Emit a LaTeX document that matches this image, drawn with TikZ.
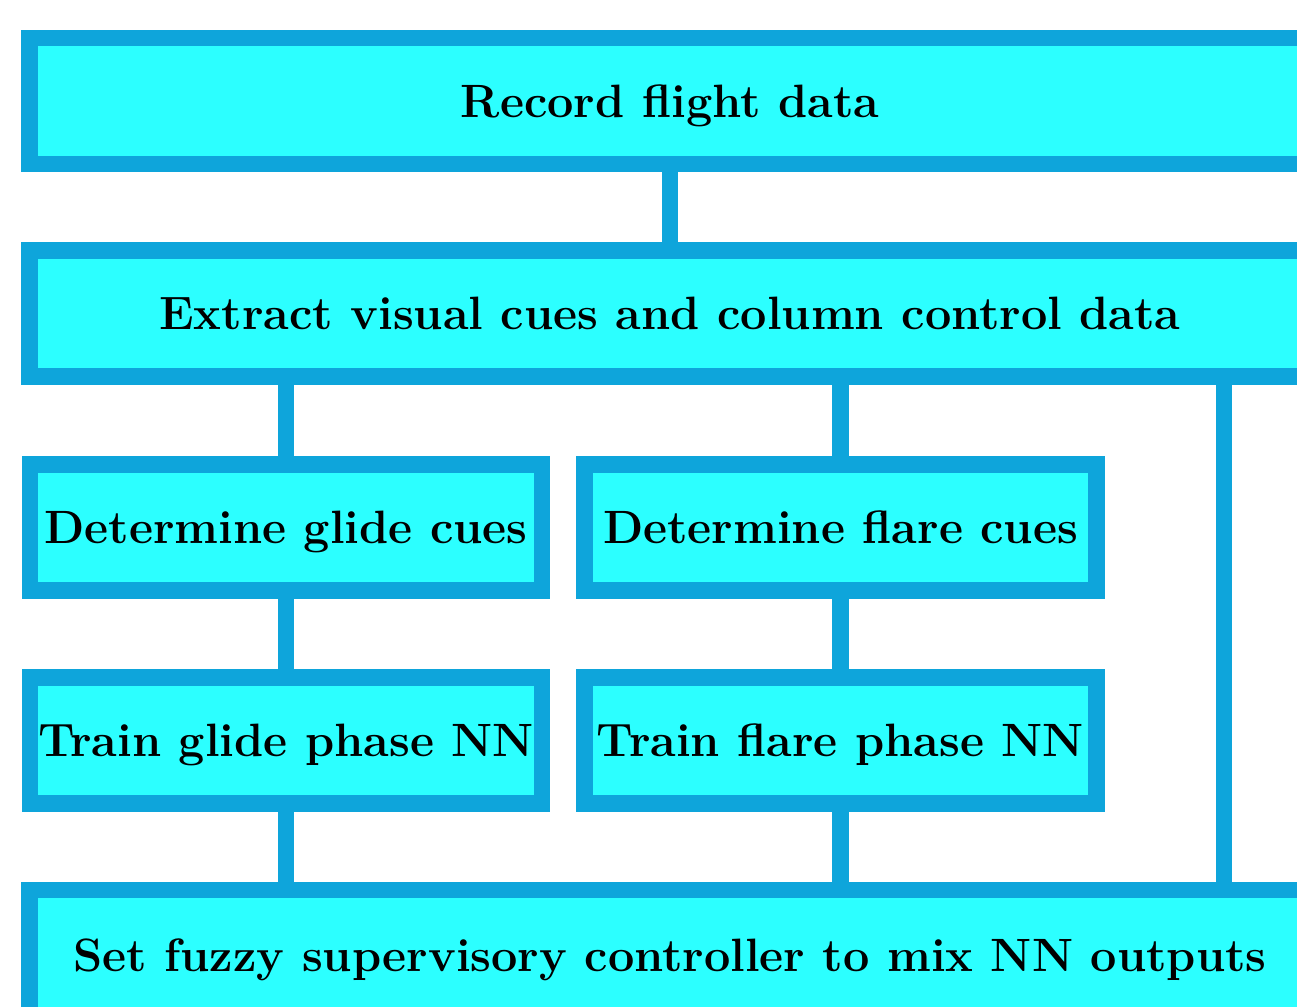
\documentclass[tikz,border=0pt]{standalone}
\usepackage{xcolor}
\definecolor{boxline}{HTML}{0EA5DB}
\definecolor{boxfill}{HTML}{2CFFFF}

\begin{document}
\begin{tikzpicture}[x=0.01cm, y=-0.01cm,
  stage/.style={draw=boxline, fill=boxfill, line width=0.165cm,
    minimum height=1.26cm, inner sep=0pt, text height=9.1pt, text depth=0pt,
    font=\fontsize{13.3}{16}\selectfont\bfseries},
  widestage/.style={stage, minimum width=12.8cm},
  halfstage/.style={stage, minimum width=5.12cm},
  link/.style={draw=boxline, line width=0.165cm}]

% Marco visible
\clip (0, 0) rectangle (1297, 1006);

% Etapas
\node[widestage] (record) at (670, 101) {Record flight data};
\node[widestage] (extract) at (670, 313.5) {Extract visual cues and column control data};
\node[halfstage] (glide) at (286, 527.5) {Determine glide cues};
\node[halfstage] (flare) at (840.5, 527.5) {Determine flare cues};
\node[halfstage] (trainglide) at (286, 740.5) {Train glide phase NN};
\node[halfstage] (trainflare) at (840.5, 740.5) {Train flare phase NN};
\node[widestage, minimum height=1.3cm] (fuzzy) at (670, 955) {Set fuzzy supervisory controller to mix NN outputs};

% Conexiones
\coordinate (bypass) at (1224, 600);
\draw[link] (record.south) -- (extract.north);
\draw[link] (extract.south -| glide.north) -- (glide.north);
\draw[link] (extract.south -| flare.north) -- (flare.north);
\draw[link] (glide.south) -- (trainglide.north);
\draw[link] (flare.south) -- (trainflare.north);
\draw[link] (trainglide.south) -- (fuzzy.north -| trainglide.south);
\draw[link] (trainflare.south) -- (fuzzy.north -| trainflare.south);
\draw[link] (extract.south -| bypass) -- (fuzzy.north -| bypass);

\end{tikzpicture}
\end{document}
